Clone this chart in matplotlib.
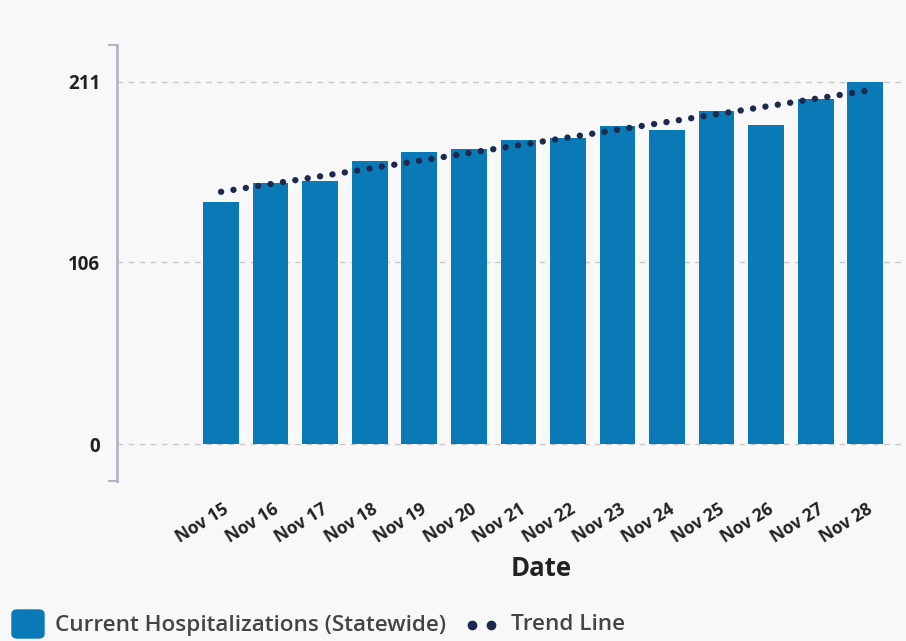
import matplotlib
matplotlib.use("Agg")
import matplotlib.pyplot as plt
import matplotlib.transforms as mtrans
import numpy as np
from matplotlib.patches import FancyBboxPatch

categories = ["Nov 15", "Nov 16", "Nov 17", "Nov 18", "Nov 19", "Nov 20", "Nov 21",
              "Nov 22", "Nov 23", "Nov 24", "Nov 25", "Nov 26", "Nov 27", "Nov 28"]
hospitalizations = [141, 152, 153, 165, 170, 172, 177, 178, 185, 183, 194, 186, 201, 211]
ytick_values = [0, 106, 211]

plt.rcParams['font.family'] = ['Open Sans', 'DejaVu Sans']

bg = "#f8f8f9"
bar_color = "#0a7ab6"
trend_color = "#1b2a4e"
text_color = "#222222"

fig = plt.figure(figsize=(9.06, 6.41), dpi=100, facecolor=bg)
ax = fig.add_axes([117/906, 1 - 481/641, 1 - 117/906 - 0.004, (481 - 45)/641])
ax.set_facecolor(bg)

x = np.arange(len(categories))
ax.bar(x, hospitalizations, width=0.72, color=bar_color, zorder=3)

coef = np.polyfit(x, hospitalizations, 1)
trend = np.polyval(coef, x)
ax.plot(x, trend, linestyle=(0, (0.01, 1.95)), linewidth=4.6, color=trend_color,
        dash_capstyle='round', zorder=4)

ax.set_ylim(-21.4, 232.4)
ax.set_xlim(-2.1, 13.75)
ax.set_yticks(ytick_values)
ax.set_yticklabels([str(v) for v in ytick_values], fontsize=13.5, fontweight='bold', color=text_color)
ax.tick_params(axis='y', length=0, pad=12)
ax.yaxis.grid(True, linestyle=(0, (4, 4)), color="#c8c8c8", linewidth=1.0, zorder=0)

ax.set_xticks(x)
ax.set_xticklabels(categories, rotation=32, ha='right', va='center', rotation_mode='anchor',
                   fontsize=12.5, fontweight='bold', color=text_color)
ax.tick_params(axis='x', length=0, pad=19)
offset = mtrans.ScaledTranslation(6/100, 0, fig.dpi_scale_trans)
for lbl in ax.get_xticklabels():
    lbl.set_transform(lbl.get_transform() + offset)

for s in ['top', 'right', 'bottom']:
    ax.spines[s].set_visible(False)
ax.spines['left'].set_color("#b4b4c4")
ax.spines['left'].set_linewidth(2)

# bracket ends on the left spine
fig.add_artist(plt.Line2D([109/906, 117/906], [1 - 45/641, 1 - 45/641], color="#b4b4c4", lw=1.5))
fig.add_artist(plt.Line2D([109/906, 117/906], [1 - 481/641, 1 - 481/641], color="#b4b4c4", lw=1.5))

fig.text(541/906, 1 - 569/641, "Date", fontsize=18.5, fontweight='bold', color=text_color,
         ha='center', va='center')

# legend
fig.add_artist(FancyBboxPatch((12/906, 1 - 638/641), 32/906, 28/641,
                              boxstyle="round,pad=0,rounding_size=0.006",
                              transform=fig.transFigure, color=bar_color))
fig.text(55/906, 1 - 625/641, "Current Hospitalizations (Statewide)", fontsize=16.2,
         fontweight='semibold', color="#444444", ha='left', va='center')
fig.add_artist(plt.Line2D([472/906, 491/906], [1 - 625/641, 1 - 625/641], color=trend_color,
                          lw=0, marker='o', markersize=6))
fig.text(511/906, 1 - 625/641, "Trend Line", fontsize=16.2, fontweight='semibold',
         color="#444444", ha='left', va='center')

fig.savefig("out.png", dpi=100, facecolor=bg)
